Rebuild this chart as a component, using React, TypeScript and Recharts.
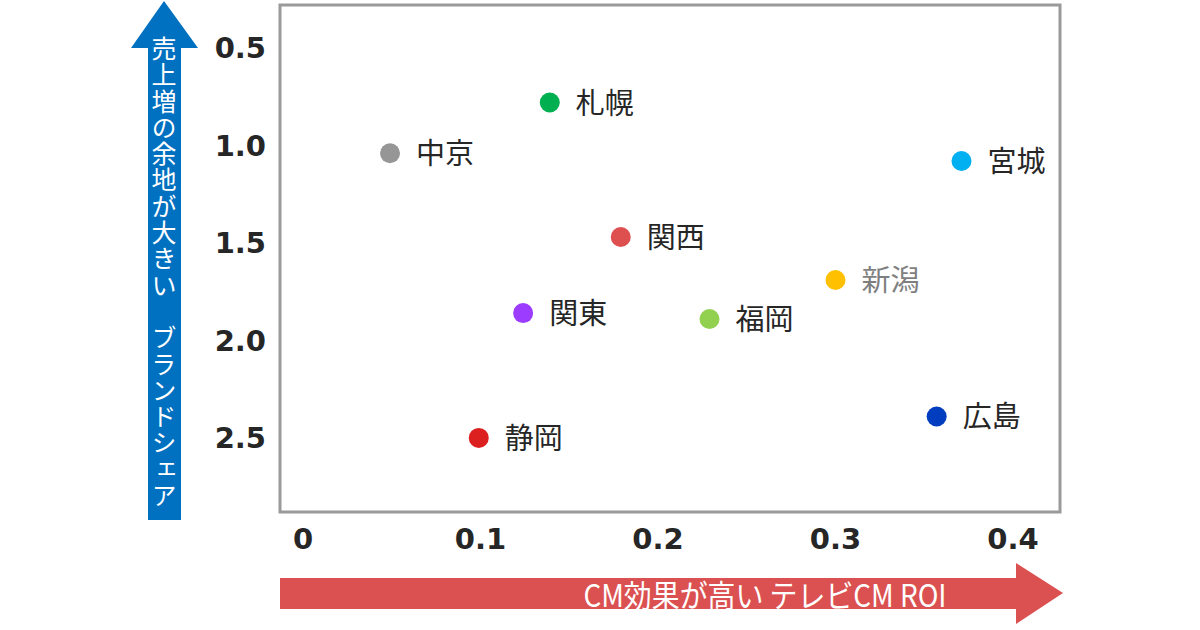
import { ScatterChart, Scatter, XAxis, YAxis, ReferenceArea, LabelList, Cell } from "recharts";

document.body.style.margin = "0";

const regions = ["札幌", "中京", "宮城", "関西", "新潟", "関東", "福岡", "広島", "静岡"];
const roi = [0.139, 0.049, 0.371, 0.179, 0.3, 0.124, 0.229, 0.357, 0.099];
const brandShare = [0.78, 1.04, 1.08, 1.47, 1.69, 1.86, 1.89, 2.39, 2.5];
const dotColors = ["#00B050", "#969696", "#00B0F0", "#DE5050", "#FFC000", "#9B3CFF", "#92D050", "#003DBF", "#DC2020"];
const xTicks = [0, 0.1, 0.2, 0.3, 0.4];
const yTicks = [0.5, 1.0, 1.5, 2.0, 2.5];

const data = regions.map((name, i) => ({ name, x: roi[i], y: brandShare[i], color: dotColors[i] }));

const X_DOMAIN = [-0.013, 0.4265];
const Y_DOMAIN = [0.28, 2.88];
const tickStyle = { fontFamily: "'DejaVu Sans', sans-serif", fontWeight: 700, fontSize: 29, fill: "#262626" };

function Dot(props: any) {
  const { cx, cy, payload } = props;
  return <circle cx={cx} cy={cy} r={10} fill={payload.color} />;
}

function RegionLabel(props: any) {
  const { x, y, width, height, value } = props;
  const cx = x + width / 2;
  const cy = y + height / 2;
  return (
    <text
      x={cx + 26}
      y={cy - 2}
      dominantBaseline="central"
      fontSize={29}
      fontFamily="'Noto Sans CJK JP', sans-serif"
      fill={value === "新潟" ? "#7F7F7F" : "#262626"}
    >
      {value}
    </text>
  );
}

export default function App() {
  return (
    <div style={{ position: "relative", width: 1200, height: 630, background: "#fff" }}>
      <ScatterChart width={1200} height={630} margin={{ top: 5, right: 140, bottom: 0, left: 200 }}>
        <XAxis
          type="number"
          dataKey="x"
          domain={X_DOMAIN}
          ticks={xTicks}
          tickFormatter={(v: number) => (v === 0 ? "0" : v.toFixed(1))}
          axisLine={false}
          tickLine={false}
          tickSize={0}
          tickMargin={16}
          height={118}
          tick={tickStyle}
          allowDataOverflow
        />
        <YAxis
          type="number"
          dataKey="y"
          reversed
          domain={Y_DOMAIN}
          ticks={yTicks}
          tickFormatter={(v: number) => v.toFixed(1)}
          axisLine={false}
          tickLine={false}
          tickSize={0}
          tickMargin={14}
          width={80}
          tick={tickStyle}
          allowDataOverflow
        />
        <ReferenceArea
          x1={X_DOMAIN[0]}
          x2={X_DOMAIN[1]}
          y1={Y_DOMAIN[0]}
          y2={Y_DOMAIN[1]}
          fill="none"
          stroke="#9A9A9A"
          strokeWidth={3}
          ifOverflow="visible"
        />
        <Scatter data={data} shape={<Dot />} isAnimationActive={false}>
          {data.map((d) => (
            <Cell key={d.name} fill={d.color} />
          ))}
          <LabelList dataKey="name" content={<RegionLabel />} />
        </Scatter>
      </ScatterChart>
      <svg width={1200} height={630} style={{ position: "absolute", left: 0, top: 0, pointerEvents: "none" }}>
        <polygon points="164,1 198,48 181,48 181,520 148,520 148,48 131,48" fill="#0070C0" />
        <text
          x={164}
          y={36}
          fill="#fff"
          fontSize={25}
          letterSpacing={1.3}
          fontFamily="'Noto Sans CJK JP', sans-serif"
          style={{ writingMode: "vertical-rl" }}
        >
          売上増の余地が大きい　ブランドシェア
        </text>
        <polygon points="280,578 1016,578 1016,563 1063,593 1016,624 1016,609 280,609" fill="#DB5050" />
        <text
          x={765}
          y={593}
          fill="#fff"
          fontSize={31}
          textAnchor="middle"
          dominantBaseline="central"
          fontFamily="'Noto Sans CJK JP', sans-serif"
          style={{ transform: "scaleX(0.9)", transformOrigin: "765px 593px" }}
        >
          CM効果が高い テレビCM ROI
        </text>
      </svg>
    </div>
  );
}
